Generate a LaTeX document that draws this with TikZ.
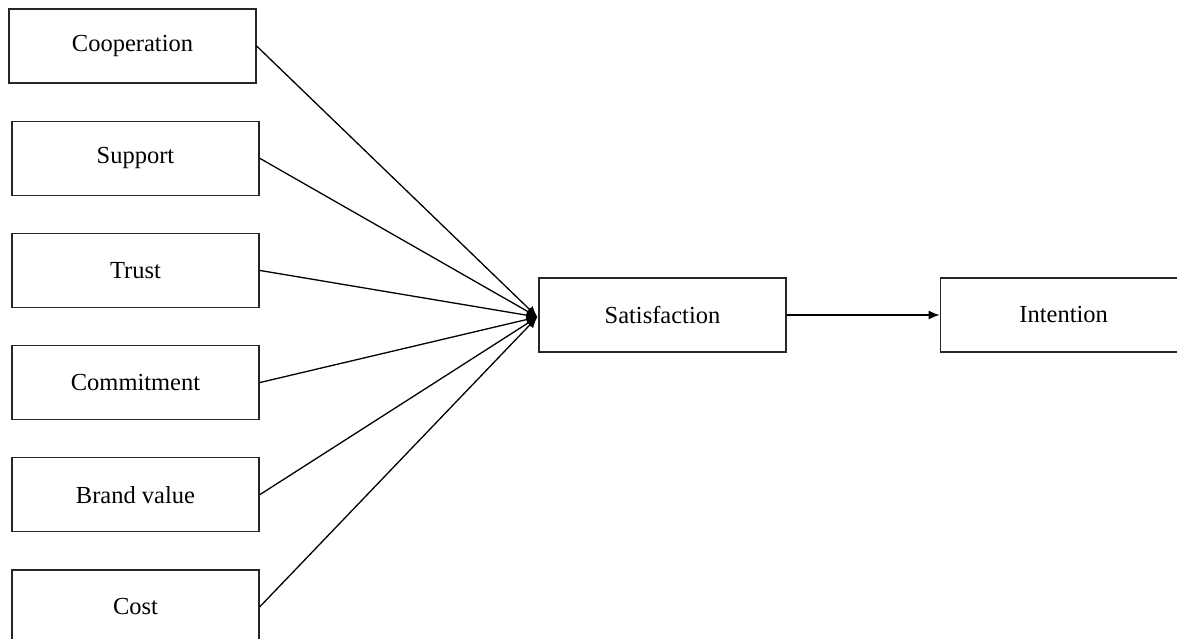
\documentclass[tikz,border=0pt]{standalone}
\usepackage{fontspec}
\setmainfont{Liberation Serif}
\usepackage{tikz}
\usetikzlibrary{arrows.meta, positioning, calc}

\begin{document}
\begin{tikzpicture}[x=1pt, y=-1pt, node distance=37pt,
    box/.style={rectangle, draw=black!85, line width=1.2pt, minimum width=247pt, minimum height=74pt, inner sep=0pt, text centered, font=\fontsize{24.5}{29}\selectfont},
    line/.style={draw, -{Latex[length=11pt,width=9pt]}, line width=1.3pt}]
    \useasboundingbox (0,0) rectangle (1177,639);

    \node [box] (coop) at (132.5,46) {Cooperation};
    \node [box, below=of coop, xshift=3pt] (support) {Support};
    \node [box, below=of support] (trust) {Trust};
    \node [box, below=of trust] (commit) {Commitment};
    \node [box, below=of commit] (brand) {Brand value};
    \node [box, below=of brand] (cost) {Cost};
    \node [box] (sat) at (662.5,315) {Satisfaction};
    \node [box, right=153pt of sat] (intent) {Intention};

    \coordinate (hub) at ($(sat.west)+(-1pt,-2pt)$);
    \path [line] (coop.east) -- (hub);
    \path [line] (support.east) -- (hub);
    \path [line] (trust.east) -- (hub);
    \path [line] (commit.east) -- (hub);
    \path [line] (brand.east) -- (hub);
    \path [line] (cost.east) -- (hub);
    \path [line] (sat.east) -- (intent.west);
\end{tikzpicture}
\end{document}
